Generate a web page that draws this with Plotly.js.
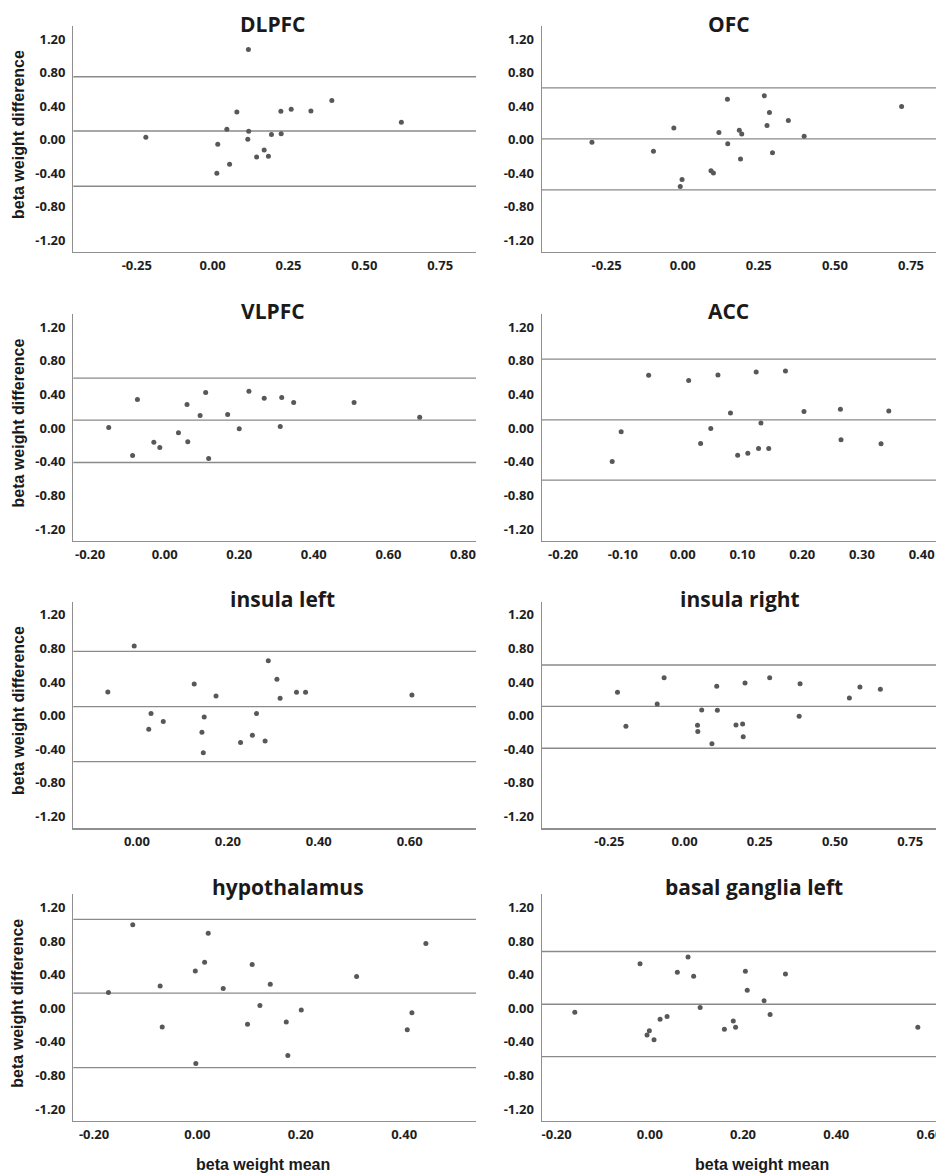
<!DOCTYPE html>
<html>
<head>
<meta charset="utf-8">
<script src="https://cdn.plot.ly/plotly-3.0.1.min.js"></script>
<style>
html,body{margin:0;padding:0;background:#fff;}
#chart{width:936px;height:1174px;}
</style>
</head>
<body>
<div id="chart"></div>
<script>
// ---------- DATA ----------
const regions = ['DLPFC','OFC','VLPFC','ACC','insula left','insula right','hypothalamus','basal ganglia left'];

const dlpfcMean = [0.118,-0.220,0.080,0.047,0.119,0.116,0.017,0.056,0.014,0.145,0.170,0.184,0.194,0.225,0.226,0.259,0.324,0.393,0.622];
const dlpfcDiff = [1.075,0.028,0.330,0.123,0.099,0.004,-0.056,-0.294,-0.400,-0.206,-0.123,-0.198,0.060,0.337,0.071,0.361,0.341,0.468,0.206];

const ofcMean = [-0.298,-0.096,-0.029,-0.002,-0.008,0.093,0.101,0.119,0.147,0.148,0.186,0.194,0.190,0.268,0.285,0.277,0.295,0.347,0.399,0.719];
const ofcDiff = [-0.030,-0.140,0.140,-0.474,-0.558,-0.370,-0.398,0.084,0.482,-0.048,0.112,0.068,-0.231,0.522,0.323,0.167,-0.155,0.227,0.040,0.394];

const vlpfcMean = [-0.150,-0.086,-0.073,-0.029,-0.013,0.037,0.060,0.062,0.095,0.110,0.118,0.169,0.200,0.226,0.267,0.310,0.314,0.346,0.508,0.684];
const vlpfcDiff = [0.008,-0.325,0.341,-0.167,-0.230,-0.056,0.282,-0.163,0.151,0.425,-0.361,0.163,-0.008,0.440,0.357,0.020,0.365,0.306,0.306,0.131];

const accMean = [-0.118,-0.103,-0.057,0.010,0.030,0.047,0.059,0.080,0.092,0.109,0.123,0.127,0.131,0.144,0.172,0.203,0.264,0.265,0.332,0.345];
const accDiff = [-0.397,-0.044,0.628,0.568,-0.183,-0.004,0.632,0.179,-0.322,-0.298,0.667,-0.242,0.060,-0.242,0.679,0.199,0.226,-0.139,-0.187,0.203];

const insLMean = [-0.064,-0.006,0.026,0.031,0.058,0.126,0.143,0.148,0.146,0.174,0.228,0.254,0.263,0.282,0.289,0.308,0.315,0.351,0.371,0.605];
const insLDiff = [0.281,0.828,-0.162,0.024,-0.071,0.376,-0.198,-0.016,-0.440,0.234,-0.321,-0.234,0.024,-0.301,0.653,0.432,0.206,0.277,0.277,0.246];

const insRMean = [-0.223,-0.195,-0.091,-0.068,0.043,0.044,0.057,0.091,0.107,0.109,0.171,0.193,0.195,0.201,0.283,0.381,0.384,0.548,0.583,0.651];
const insRDiff = [0.277,-0.127,0.139,0.451,-0.115,-0.190,0.067,-0.333,0.349,0.063,-0.111,-0.099,-0.250,0.388,0.451,-0.008,0.380,0.210,0.341,0.313];

const hypoMean = [-0.172,-0.125,-0.072,-0.068,-0.004,-0.003,0.014,0.021,0.050,0.097,0.106,0.121,0.141,0.172,0.175,0.201,0.308,0.406,0.415,0.442];
const hypoDiff = [0.187,0.992,0.266,-0.222,0.444,-0.655,0.548,0.893,0.234,-0.190,0.520,0.032,0.286,-0.163,-0.560,-0.020,0.377,-0.254,-0.052,0.770];

const bgMean = [-0.161,-0.021,-0.006,-0.001,0.009,0.022,0.037,0.059,0.082,0.094,0.108,0.160,0.179,0.184,0.205,0.209,0.245,0.258,0.291,0.575];
const bgDiff = [-0.048,0.528,-0.317,-0.266,-0.373,-0.131,-0.099,0.429,0.611,0.381,0.008,-0.250,-0.151,-0.226,0.440,0.214,0.091,-0.075,0.409,-0.226];

// Bland-Altman lines: upper limit, mean difference, lower limit
const upperLoA = [0.750,0.617,0.595,0.822,0.764,0.602,1.056,0.675];
const meanDiff = [0.103,0.008,0.095,0.099,0.107,0.111,0.179,0.048];
const lowerLoA = [-0.556,-0.600,-0.409,-0.620,-0.547,-0.388,-0.706,-0.575];

// tick labels
const yTickVals = [-1.2,-0.8,-0.4,0,0.4,0.8,1.2];
const yTickText = ['-1.20','-0.80','-0.40','0.00','0.40','0.80','1.20'];
const xTicksQuarter = [-0.25,0,0.25,0.5,0.75];
const xTicksQuarterText = ['-0.25','0.00','0.25','0.50','0.75'];
const xTicksFifth = [-0.2,0,0.2,0.4,0.6,0.8];
const xTicksFifthText = ['-0.20','0.00','0.20','0.40','0.60','0.80'];
const xTicksTenth = [-0.2,-0.1,0,0.1,0.2,0.3,0.4];
const xTicksTenthText = ['-0.20','-0.10','0.00','0.10','0.20','0.30','0.40'];

const xTitle = 'beta weight mean';
const yTitle = 'beta weight difference';

// ---------- LAYOUT ----------
const W = 936, H = 1174;
const colX = [[73.3,476],[541.7,936]];
const rowY = [[26,252],[314.3,540.7],[601.7,828.3],[894.3,1121]];
const xRanges = [[-0.459,0.868],[-0.463,0.832],[-0.245,0.835],[-0.236,0.424],[-0.140,0.746],[-0.475,0.836],[-0.240,0.539],[-0.232,0.614]];
const yRange = [-1.34,1.355];
const xTickSets = [
  [xTicksQuarter,xTicksQuarterText],[xTicksQuarter,xTicksQuarterText],
  [xTicksFifth,xTicksFifthText],[xTicksTenth,xTicksTenthText],
  [xTicksFifth,xTicksFifthText],[xTicksQuarter,xTicksQuarterText],
  [xTicksFifth,xTicksFifthText],[xTicksFifth,xTicksFifthText]
];
const titlePos = [[273,23.5],[728.7,23.5],[272.7,310.7],[728,310.7],[282,598.5],[740,598.5],[288,886.5],[753.7,886.5]];

const meansAll = [dlpfcMean,ofcMean,vlpfcMean,accMean,insLMean,insRMean,hypoMean,bgMean];
const diffsAll = [dlpfcDiff,ofcDiff,vlpfcDiff,accDiff,insLDiff,insRDiff,hypoDiff,bgDiff];

const traces = [];
const layout = {
  width: W, height: H,
  margin: {l:0,r:0,t:0,b:0},
  paper_bgcolor: '#ffffff',
  plot_bgcolor: '#ffffff',
  showlegend: false,
  shapes: [],
  annotations: []
};

const tickFont = {family:'Open Sans, sans-serif', size:13, weight:'bold', color:'#1e1e1e'};
const axisLineColor = '#8f8f8f';
const refLineColor = '#8a8a8a';

for (let i = 0; i < regions.length; i++) {
  const col = i % 2, row = Math.floor(i / 2);
  const n = i === 0 ? '' : String(i + 1);
  traces.push({
    type: 'scatter', mode: 'markers',
    x: meansAll[i], y: diffsAll[i],
    xaxis: 'x' + n, yaxis: 'y' + n,
    marker: {size: 5, color: '#585858'},
    hoverinfo: 'x+y', cliponaxis: false
  });
  const xd = [colX[col][0] / W, colX[col][1] / W];
  const yd = [1 - rowY[row][1] / H, 1 - rowY[row][0] / H];
  layout['xaxis' + n] = {
    domain: xd, range: xRanges[i], anchor: 'y' + n,
    showgrid: false, zeroline: false, showline: true, linecolor: axisLineColor, linewidth: 1.2,
    ticks: 'outside', ticklen: 1, tickcolor: 'rgba(0,0,0,0)',
    tickmode: 'array', tickvals: xTickSets[i][0], ticktext: xTickSets[i][1],
    ticklabeloverflow: 'allow',
    tickfont: tickFont, fixedrange: true
  };
  layout['yaxis' + n] = {
    domain: yd, range: yRange, anchor: 'x' + n,
    showgrid: false, zeroline: false, showline: true, linecolor: axisLineColor, linewidth: 1.2,
    ticks: 'outside', ticklen: 4, tickcolor: 'rgba(0,0,0,0)',
    tickmode: 'array', tickvals: yTickVals, ticktext: yTickText,
    tickfont: tickFont, fixedrange: true
  };
  [upperLoA[i], meanDiff[i], lowerLoA[i]].forEach(v => {
    layout.shapes.push({
      type: 'line', xref: 'x' + n + ' domain', yref: 'y' + n,
      x0: 0, x1: 1, y0: v, y1: v,
      line: {color: refLineColor, width: 1.3}, layer: 'below'
    });
  });
  // panel title
  layout.annotations.push({
    text: '<b>' + regions[i] + '</b>', showarrow: false,
    xref: 'paper', yref: 'paper',
    x: titlePos[i][0] / W, y: 1 - titlePos[i][1] / H,
    xanchor: 'center', yanchor: 'middle',
    font: {family: 'Open Sans, sans-serif', size: 21, color: '#1a1a1a'}
  });
  // y-axis title on left column
  if (col === 0) {
    const yc = (rowY[row][0] + rowY[row][1]) / 2 - 4;
    layout.annotations.push({
      text: '<b>' + yTitle + '</b>', showarrow: false, textangle: -90,
      xref: 'paper', yref: 'paper', x: 18 / W, y: 1 - yc / H,
      xanchor: 'center', yanchor: 'middle',
      font: {family: 'Liberation Sans, Arial, sans-serif', size: 16, color: '#1a1a1a'}
    });
  }
  // x-axis title on bottom row
  if (row === 3) {
    const xc = col === 0 ? 263 : 762;
    layout.annotations.push({
      text: '<b>' + xTitle + '</b>', showarrow: false,
      xref: 'paper', yref: 'paper', x: xc / W, y: 1 - 1164 / H,
      xanchor: 'center', yanchor: 'middle',
      font: {family: 'Liberation Sans, Arial, sans-serif', size: 16, color: '#1a1a1a'}
    });
  }
}

Plotly.newPlot('chart', traces, layout, {displayModeBar: false, staticPlot: true});
</script>
</body>
</html>
